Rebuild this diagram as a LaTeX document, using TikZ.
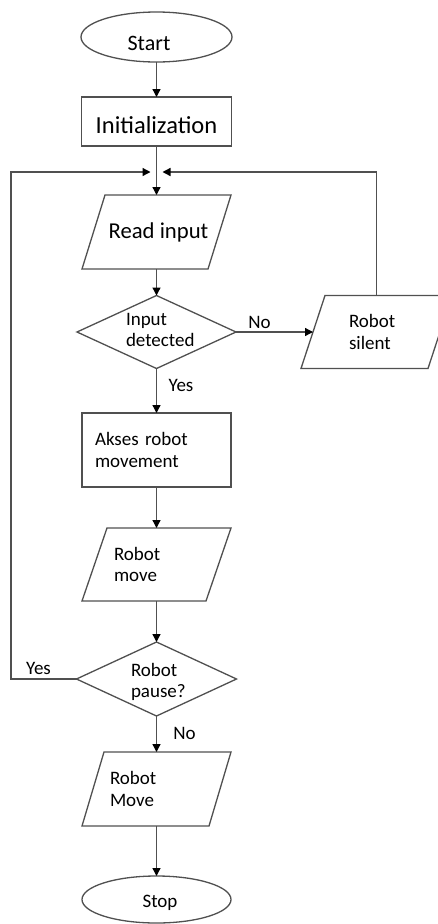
\documentclass[tikz,border=0pt]{standalone}
\usepackage{fontspec}
\setmainfont{Carlito}
\usetikzlibrary{arrows.meta,shapes.geometric}
\definecolor{lc}{HTML}{505050}
\newcommand{\fsn}{\fontsize{19}{21.5}\selectfont}
\newcommand{\fsb}{\fontsize{22}{26}\selectfont}
\newcommand{\tshift}[3]{\raisebox{#2}[\height][\depth]{\rlap{\hspace*{#1}#3}\phantom{#3}}}
\begin{document}
\begin{tikzpicture}[x=1pt,y=-1pt,
  shapeline/.style={draw=lc, line width=1.3pt},
  base/.style={inner sep=0pt, outer sep=0pt, text=black, font=\fsn},
  term/.style={base, ellipse, shapeline},
  proc/.style={base, rectangle, shapeline},
  io/.style={base, rectangle, append after command={\pgfextra{\draw[shapeline] ([xshift=#1]\tikzlastnode.north west) -- ([xshift=#1]\tikzlastnode.north east) -- ([xshift=-#1]\tikzlastnode.south east) -- ([xshift=-#1]\tikzlastnode.south west) -- cycle;}}},
  decision/.style={base, rectangle, append after command={\pgfextra{\draw[shapeline] (\tikzlastnode.north) -- (\tikzlastnode.east) -- (\tikzlastnode.south) -- (\tikzlastnode.west) -- cycle;}}},
  txt/.style={inner sep=0pt, outer sep=0pt, text=black, font=\fsn},
  arr/.style={draw=lc, line width=1.3pt, -{Triangle[length=8pt,width=8pt,color=black]}},
]
\fill[white] (0,0) rectangle (438,924);
\useasboundingbox (0,0) rectangle (438,924);

\node[term, minimum width=151pt, minimum height=50pt, font=\fsb] (start) at (156.5,37) {\tshift{-7.5pt}{-6pt}{Start}};
\node[proc, minimum width=150pt, minimum height=49pt, font=\fontsize{24.5}{28}\selectfont] (init) at (156.5,121.5) {\tshift{0pt}{-4pt}{Initialization}};
\node[io=11.5pt, minimum width=126pt, minimum height=74pt, font=\fontsize{22.7}{26}\selectfont] (rin) at (156.5,232) {\tshift{2pt}{0pt}{Read input}};
\node[decision, minimum width=159pt, minimum height=73pt] (idet) at (156.5,332) {};
\node[txt, align=left, anchor=west] (idett) at (126,330) {Input\\detected};
\node[io=12pt, minimum width=127pt, minimum height=73pt, text width=55pt, align=left] (rsil) at (376.5,332) {Robot\\silent};
\node[proc, minimum width=149pt, minimum height=74pt, text width=123pt, align=left] (akses) at (156.5,450) {Akses robot\\movement};
\node[io=12.5pt, minimum width=124pt, minimum height=73pt, text width=85pt, align=left] (rmove) at (156.5,564.5) {Robot\\move};
\node[decision, minimum width=160pt, minimum height=74pt] (pause) at (156.5,679) {};
\node[txt, align=left, anchor=west] (pauset) at (131,682) {Robot\\pause?};
\node[io=11pt, minimum width=127pt, minimum height=74pt, text width=93pt, align=left] (rmove2) at (156.5,789) {Robot\\Move};
\node[term, minimum width=149pt, minimum height=47pt] (stop) at (156.5,899.5) {\tshift{3.5pt}{-3.5pt}{Stop}};

\coordinate (m) at (156.5,172);
\coordinate (lft) at (11,172);
\coordinate (rgt) at (376.5,172);

\draw[arr] (start.south) -- (init.north);
\draw[arr] (init.south) -- (rin.north);
\draw[arr] (rin.south) -- (idet.north);
\draw[arr] (idet.east) -- (rsil.west);
\draw[arr] (idet.south) -- (akses.north);
\draw[arr] (akses.south) -- (rmove.north);
\draw[arr] (rmove.south) -- (pause.north);
\draw[arr] (pause.south) -- (rmove2.north);
\draw[arr] (rmove2.south) -- (stop.north);
\draw[arr] (pause.west) -| (lft) -- ([xshift=-6pt]m);
\draw[arr] (rsil.north) -- (rgt) -- ([xshift=6pt]m);

\node[txt] (lno1) at (259.5,322) {No};
\node[txt] (lyes1) at (181,385) {Yes};
\node[txt] (lyes2) at (38.5,668) {Yes};
\node[txt] (lno2) at (184.5,733) {No};
\end{tikzpicture}
\end{document}
